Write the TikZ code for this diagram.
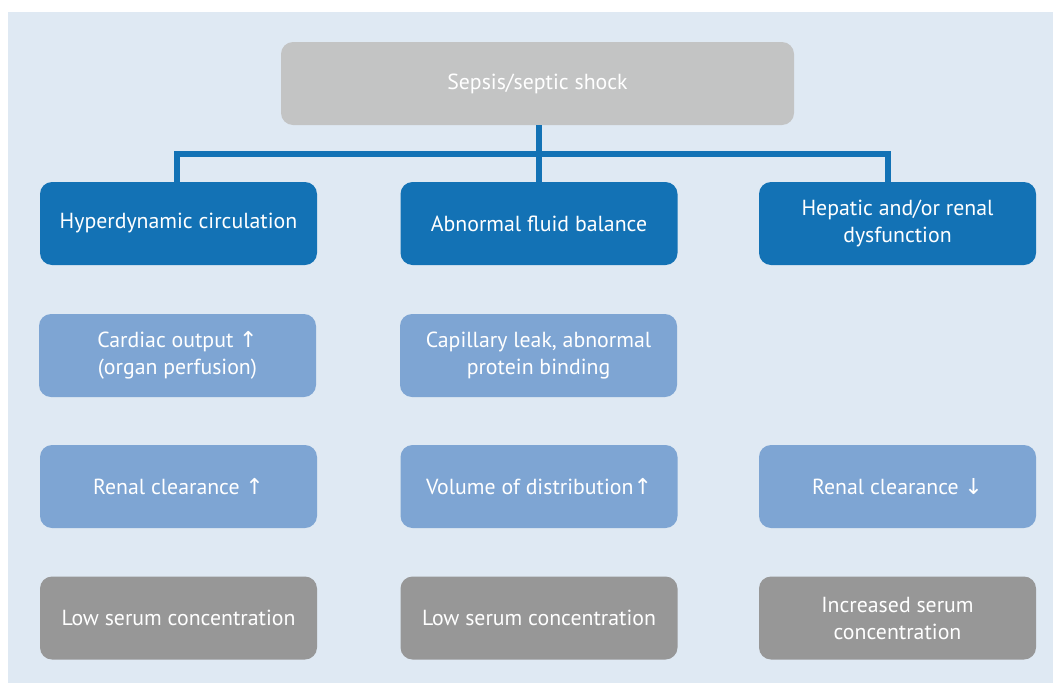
\documentclass[tikz,border=0pt]{standalone}
\usepackage{fontspec}
\setmainfont{PT Sans}
\newfontfamily\arr{DejaVu Sans}
\definecolor{bgc}{HTML}{DFE9F3}
\definecolor{topc}{HTML}{C3C4C4}
\definecolor{darkc}{HTML}{1372B5}
\definecolor{lightc}{HTML}{7EA5D3}
\definecolor{grayc}{HTML}{979797}
\newcommand{\up}{{\arr\fontsize{22}{27}\selectfont ↑}}
\newcommand{\dn}{{\arr\fontsize{22}{27}\selectfont ↓}}
\tikzset{
  box/.style={rounded corners=12pt, minimum height=83pt, text=white, align=center,
    inner sep=0pt, font=\fontsize{21.8}{27}\selectfont},
  topbox/.style={box, fill=topc, minimum width=513pt},
  darkbox/.style={box, fill=darkc, minimum width=277pt},
  lightbox/.style={box, fill=lightc, minimum width=277pt},
  graybox/.style={box, fill=grayc, minimum width=277pt},
  conn/.style={draw=darkc, line width=6pt}
}
\begin{document}
\begin{tikzpicture}[x=1pt,y=-1pt]
\useasboundingbox (0,0) rectangle (1053,683);
\fill[white] (0,0) rectangle (1053,683);
\fill[bgc] (8,12) rectangle (1053,683);

\node[topbox] (top) at (537.5,83.5) {Sepsis/septic shock};

\node[darkbox] (d1) at (178.5,223.5) {Hyperdynamic circulation};
\node[darkbox] (d2) at (539,223.5) {Abnormal fluid balance};
\node[darkbox] (d3) at (897.5,223.5) {Hepatic and/or renal\\dysfunction};

\node[lightbox] (l1) at (177.5,355.5) {Cardiac output \up\\(organ perfusion)};
\node[lightbox] (l2) at (538.5,355.5) {Capillary leak, abnormal\\protein binding};

\node[lightbox] (r1) at (178.5,486.5) {Renal clearance \up};
\node[lightbox] (r2) at (539,486.5) {Volume of distribution\up};
\node[lightbox] (r3) at (897.5,486.5) {Renal clearance \dn};

\node[graybox] (g1) at (178.5,618) {Low serum concentration};
\node[graybox] (g2) at (539,618) {Low serum concentration};
\node[graybox] (g3) at (897.5,618) {Increased serum\\concentration};

\coordinate (hj) at (538.5,153.5);
\draw[conn] (top.south -| hj) -- (hj);
\draw[conn] (d1.north -| 176.5,0) |- (hj);
\draw[conn] (d3.north -| 887.5,0) |- (hj);
\draw[conn] (hj) -- (d2.north -| hj);
\end{tikzpicture}
\end{document}
